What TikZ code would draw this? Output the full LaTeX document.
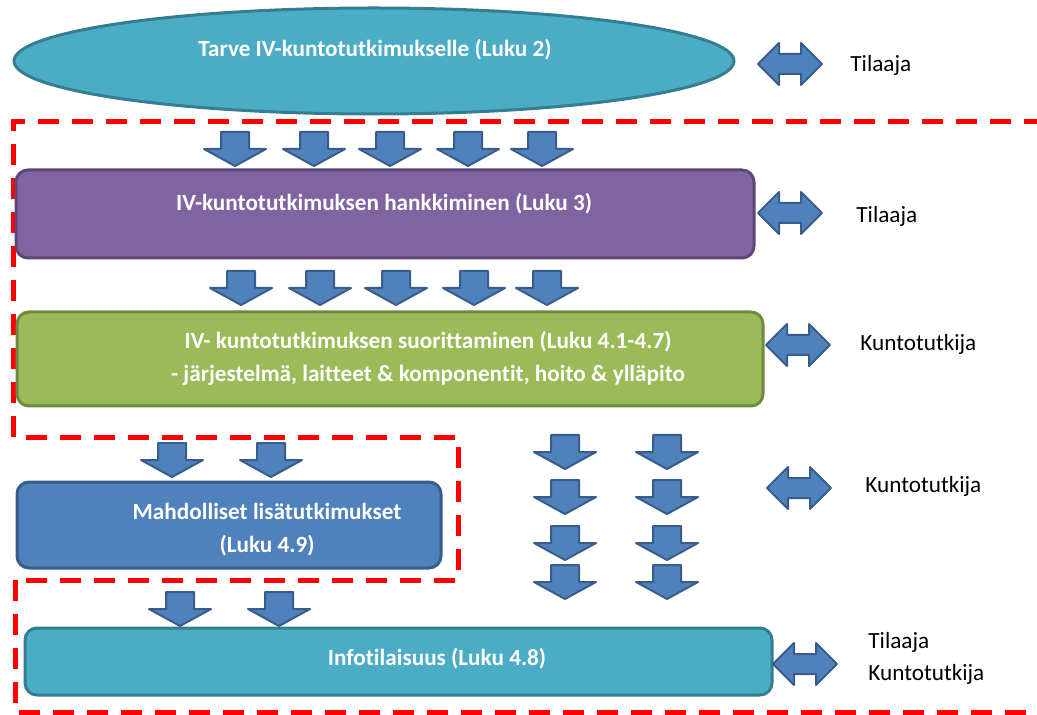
\documentclass[tikz,border=0pt]{standalone}
\usepackage{fontspec}
\setmainfont{Carlito}[Ligatures={NoCommon, NoContextual}]
\usepackage{tikz}
\usepackage{color}
\definecolor{aqua}{RGB}{75, 172, 198}
\definecolor{aquadeep}{RGB}{53, 125, 145}
\definecolor{wisteria}{RGB}{128, 100, 162}
\definecolor{wisteriadeep}{RGB}{92, 71, 118}
\definecolor{leaf}{RGB}{155, 187, 89}
\definecolor{leafdeep}{RGB}{113, 137, 63}
\definecolor{steel}{RGB}{79, 129, 189}
\definecolor{steeldeep}{RGB}{56, 93, 138}
\definecolor{signalred}{RGB}{255, 0, 0}
\tikzset{
    redframe/.style={draw=signalred, line width=2.5pt, dash pattern=on 10.5pt off 6.5pt},
    blockarrow/.style={color=steeldeep, fill=steel, line width=1pt, line join=round},
    phasebox/.style={line width=1.5pt, rounded corners=6pt},
    phasetext/.style={text=white, inner sep=0pt, anchor=base, font=\fontsize{11.6}{14}\selectfont\bfseries},
    roletext/.style={text=black, inner sep=0pt, anchor=base west, font=\fontsize{11.6}{14}\selectfont}
}
\newcommand{\downblock}[2]{\filldraw[blockarrow, shift={(#1,#2)}] (-14,0) -- (14,0) -- (14,17) -- (31,17) -- (0,34) -- (-31,17) -- (-14,17) -- cycle;}
\newcommand{\bothblock}[2]{\filldraw[blockarrow, shift={(#1,#2)}] (-32,0) -- (-11,-21) -- (-11,-10) -- (11,-10) -- (11,-21) -- (32,0) -- (11,21) -- (11,10) -- (-11,10) -- (-11,21) -- cycle;}

\begin{document}
\begin{tikzpicture}[x=0.5pt, y=-0.5pt]
            \useasboundingbox                                               (0, 0) rectangle (1037, 715);
            \draw[redframe]      (1045, 122) -- (13, 122) -- (13, 437) -- (458, 437) -- (458, 580) -- (13, 580);
            \draw[redframe]      (15, 580) -- (15, 712) -- (1045, 712);
            \filldraw[color=aquadeep,     fill=aqua,     line width=1.5pt] (374, 61)   ellipse   (180pt and 26.5pt);
            \filldraw[phasebox, color=wisteriadeep, fill=wisteria]        (16, 170)  rectangle (754, 258);
            \filldraw[phasebox, color=leafdeep,     fill=leaf]            (17, 312)  rectangle (763, 406);
            \filldraw[phasebox, color=steeldeep,    fill=steel]           (17, 482)  rectangle (441, 568);
            \filldraw[phasebox, color=aquadeep,     fill=aqua]            (25, 628)  rectangle (772, 695);
            \foreach \x in {235, 314, 390, 468, 542} \downblock{\x}{132};
            \foreach \x in {241, 320, 396, 474, 547} \downblock{\x}{271};
            \foreach \x in {172, 271} \downblock{\x}{443};
            \foreach \x in {180, 279} \downblock{\x}{592};
            \foreach \y in {435, 480, 526, 565} {\downblock{565}{\y} \downblock{667}{\y}}
            \bothblock{790}{64}
            \bothblock{790}{213}
            \bothblock{798}{345}
            \bothblock{799}{488}
            \bothblock{805}{664}
            \node (tarve)    [phasetext] at (375, 57)  {Tarve IV-kuntotutkimukselle (Luku 2)};
            \node (hankinta) [phasetext] at (384, 211) {IV-kuntotutkimuksen hankkiminen (Luku 3)};
            \node (suoritus) [phasetext] at (428, 349) {IV- kuntotutkimuksen suorittaminen (Luku 4.1-4.7)};
            \node (sisalto)  [phasetext] at (428, 382) {- järjestelmä, laitteet \& komponentit, hoito \& ylläpito};
            \node (lisa)     [phasetext] at (267, 519) {Mahdolliset lisätutkimukset};
            \node (lisaluku) [phasetext] at (267, 552) {(Luku 4.9)};
            \node (info)     [phasetext] at (437, 665) {Infotilaisuus (Luku 4.8)};
            \node (tilaaja1) [roletext]  at (850, 72)  {Tilaaja};
            \node (tilaaja2) [roletext]  at (856, 223) {Tilaaja};
            \node (kunto1)   [roletext]  at (860, 351) {Kuntotutkija};
            \node (kunto2)   [roletext]  at (865, 492) {Kuntotutkija};
            \node (tilaaja3) [roletext]  at (868, 648) {Tilaaja};
            \node (kunto3)   [roletext]  at (868, 680) {Kuntotutkija};
        \end{tikzpicture}
\end{document}
